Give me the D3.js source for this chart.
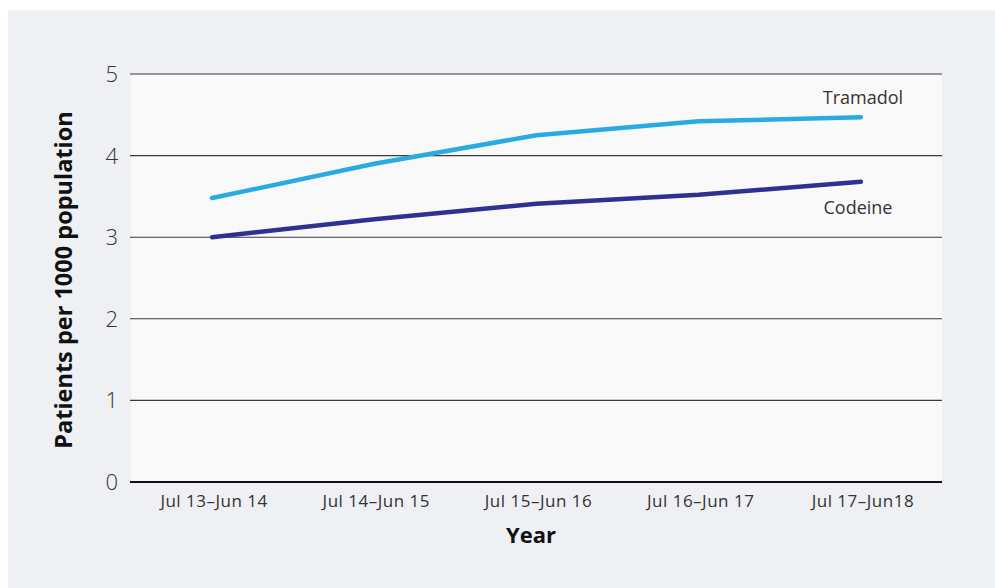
<!DOCTYPE html>
<html><head><meta charset="utf-8">
<script src="https://cdn.jsdelivr.net/npm/d3@7"></script>
<style>
html,body{margin:0;padding:0;background:#fff;}
svg{display:block;font-family:"Open Sans","Noto Sans",sans-serif;}
</style></head>
<body>
<svg id="chart" width="995" height="588"></svg>
<script>
const categories = ["Jul 13\u2013Jun 14","Jul 14\u2013Jun 15","Jul 15\u2013Jun 16","Jul 16\u2013Jun 17","Jul 17\u2013Jun18"];
const tramadol = [3.48, 3.90, 4.25, 4.42, 4.47];
const codeine = [3.00, 3.22, 3.41, 3.52, 3.68];
const yTicks = [0,1,2,3,4,5];
const seriesNames = ["Tramadol","Codeine"];

(function(){
const svg = d3.select("#chart");
svg.append("rect").attr("x",8).attr("y",10).attr("width",987).attr("height",578).attr("fill","#eef0f4");

const pl=131, pr=942, pt=74, pb=482;
const x = d3.scalePoint().domain(categories).range([pl,pr]).padding(0.5);
const y = d3.scaleLinear().domain([0,5]).range([pb,pt]);

svg.append("rect").attr("x",pl).attr("y",pt).attr("width",pr-pl).attr("height",pb-pt).attr("fill","#f9f9f9");

svg.append("g").selectAll("line").data(yTicks.filter(d=>d>0)).join("line")
  .attr("x1",pl-1).attr("x2",pr).attr("y1",d=>y(d)).attr("y2",d=>y(d))
  .attr("stroke","#3a3a3a").attr("stroke-width",1.1);
svg.append("line").attr("x1",pl-1).attr("x2",pr).attr("y1",y(0)).attr("y2",y(0))
  .attr("stroke","#111").attr("stroke-width",2);

svg.append("g").selectAll("text").data(yTicks).join("text")
  .attr("x",118).attr("y",d=>y(d)+8).attr("text-anchor","end")
  .attr("font-size",22).attr("font-weight",300).attr("fill","#333").text(d=>d);

svg.append("g").selectAll("text").data(categories).join("text")
  .attr("x",d=>x(d)+2).attr("y",507).attr("text-anchor","middle")
  .attr("font-size",17).attr("letter-spacing",0.5).attr("font-weight",400).attr("fill","#333").text(d=>d);

svg.append("text").attr("x",531).attr("y",543).attr("text-anchor","middle")
  .attr("font-size",22).attr("font-weight",700).attr("fill","#111").text("Year");
svg.append("text").attr("transform","translate(72,280) rotate(-90)").attr("text-anchor","middle")
  .attr("font-size",23.5).attr("font-weight",700).attr("fill","#111").text("Patients per 1000 population");

const line = d3.line().x((d,i)=>x(categories[i])).y(d=>y(d));
const series = [{name:seriesNames[0],vals:tramadol,color:"#29abe2"},{name:seriesNames[1],vals:codeine,color:"#2e3192"}];
svg.append("g").selectAll("path").data(series).join("path")
  .attr("d",d=>line(d.vals)).attr("fill","none").attr("stroke",d=>d.color)
  .attr("stroke-width",4.5).attr("stroke-linecap","round").attr("stroke-linejoin","round");

svg.append("text").attr("x",863).attr("y",y(tramadol[4])-13).attr("text-anchor","middle")
  .attr("font-size",18).attr("font-weight",400).attr("fill","#333").text(seriesNames[0]);
svg.append("text").attr("x",858).attr("y",y(codeine[4])+32).attr("text-anchor","middle")
  .attr("font-size",18).attr("font-weight",400).attr("fill","#333").text(seriesNames[1]);
})();
</script>
</body></html>
